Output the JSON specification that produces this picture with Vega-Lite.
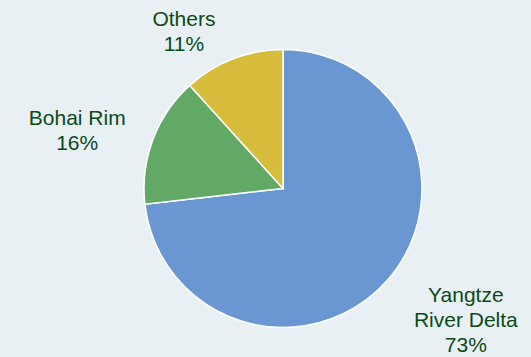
{
  "$schema": "https://vega.github.io/schema/vega-lite/v6.json",
  "width": 496,
  "height": 337,
  "autosize": "none",
  "padding": {"left": 35, "top": 20, "right": 0, "bottom": 0},
  "background": "#e9f0f4",
  "view": {"stroke": null},
  "data": {
    "values": [
      {"region": "Yangtze River Delta", "share": 73.2, "label": "Yangtze\nRiver Delta\n73%"},
      {"region": "Bohai Rim", "share": 15.1, "label": "Bohai Rim\n16%"},
      {"region": "Others", "share": 11.7, "label": "Others\n11%"}
    ]
  },
  "encoding": {
    "theta": {"field": "share", "type": "quantitative", "stack": true},
    "order": {"field": "share", "sort": "descending"}
  },
  "layer": [
    {
      "mark": {"type": "arc", "outerRadius": 139, "stroke": "white", "strokeWidth": 1.5},
      "encoding": {
        "color": {
          "field": "region",
          "type": "nominal",
          "scale": {"domain": ["Yangtze River Delta", "Bohai Rim", "Others"], "range": ["#6a96d2", "#63a966", "#d8bc3b"]},
          "legend": null
        }
      }
    },
    {
      "mark": {"type": "text", "radius": 225, "dx": 15, "dy": -42, "font": "Liberation Sans", "fontSize": 21, "lineHeight": 25, "lineBreak": "\n", "color": "#0b4a14", "align": "center", "baseline": "middle"},
      "encoding": {
        "text": {"field": "label"},
        "opacity": {"condition": {"test": "datum.region === 'Yangtze River Delta'", "value": 1}, "value": 0}
      }
    },
    {
      "mark": {"type": "text", "radius": 220, "dx": 0, "dy": 8, "font": "Liberation Sans", "fontSize": 21, "lineHeight": 25, "lineBreak": "\n", "color": "#0b4a14", "align": "center", "baseline": "middle"},
      "encoding": {
        "text": {"field": "label"},
        "opacity": {"condition": {"test": "datum.region === 'Bohai Rim'", "value": 1}, "value": 0}
      }
    },
    {
      "mark": {"type": "text", "radius": 170, "dx": -38, "dy": -10, "font": "Liberation Sans", "fontSize": 21, "lineHeight": 25, "lineBreak": "\n", "color": "#0b4a14", "align": "center", "baseline": "middle"},
      "encoding": {
        "text": {"field": "label"},
        "opacity": {"condition": {"test": "datum.region === 'Others'", "value": 1}, "value": 0}
      }
    }
  ]
}
